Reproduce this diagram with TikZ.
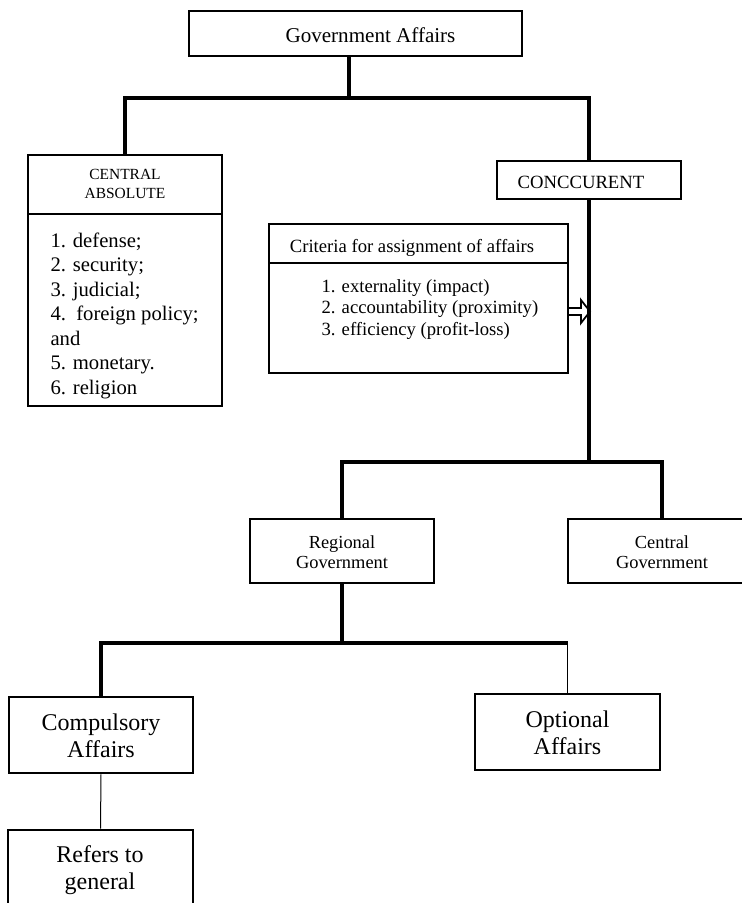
\documentclass[tikz,border=0pt]{standalone}
\usepackage{fontspec}
\setmainfont{Liberation Serif}
\usetikzlibrary{fit}

\tikzset{every picture/.style={line width=0.75pt}}
\tikzset{box/.style={draw, line width=1.9pt, inner sep=0pt},
  trunk/.style={line width=2.9pt},
  twig/.style={line width=0.75pt},
  boxtext/.style={inner sep=0pt, align=center},
  listtext/.style={inner sep=0pt, align=left, anchor=north west}}

\begin{document}
\begin{tikzpicture}[x=0.75pt,y=0.75pt,yscale=-1,xscale=1]
\useasboundingbox (0,0) rectangle (742,903);

%Shape: Rectangle
\node[box, fit={(189,11) (522,56)}] (gov) {};
%Shape: Rectangle
\node[box, fit={(28,155) (222,214)}] (absolute) {};
%Shape: Rectangle
\node[box, fit={(28,214) (222,406)}] (abslist) {};
%Shape: Rectangle
\node[box, fit={(497,161) (681,199)}] (conc) {};
%Shape: Rectangle
\node[box, fit={(269,224) (568,263)}] (crithead) {};
%Shape: Rectangle
\node[box, fit={(269,263) (568,373)}] (critbody) {};
%Shape: Rectangle
\node[box, fit={(250,519) (434,583)}] (regional) {};
%Shape: Rectangle
\node[box, fit={(568,519) (756,583)}] (central) {};
%Shape: Rectangle
\node[box, fit={(9,697) (193,773)}] (compulsory) {};
%Shape: Rectangle
\node[box, fit={(475,694) (660,770)}] (optional) {};
%Shape: Rectangle
\node[box, fit={(8,830) (193,915)}] (refers) {};

%Straight Lines
\coordinate (split1) at (349,98);
\draw[trunk] (gov.south -| split1) -- (split1);
\draw[trunk] (absolute.north) |- (split1) -| (conc.north);
%Straight Lines
\coordinate (split2) at (589,462);
\draw[trunk] (conc.south) -- (split2);
\draw[trunk] (regional.north) |- (split2) -| (central.north);
%Straight Lines
\coordinate (split3) at (342,643);
\draw[trunk] (regional.south) -- (split3);
\draw[trunk] (compulsory.north) |- (optional.north |- split3);
\draw[twig] (optional.north |- split3) -- (optional.north);
%Straight Lines
\draw[twig] (compulsory.south) -- (refers.north);
%Right Arrow
\coordinate (arrowtail) at (568,311.5);
\draw[line width=1.3pt] (arrowtail) ++(0,-3.5) -- ++(13,0) -- ++(0,-8) -- ++(9,11.5) -- ++(-9,11.5) -- ++(0,-8) -- ++(-13,0);

% Text Node
\node[boxtext, font=\fontsize{15.8}{19}\selectfont] (govtext) at (370.5,35) {Government Affairs};
% Text Node
\node[boxtext, font=\fontsize{11.6}{14.3}\selectfont] (abstext) at (125,184) {CENTRAL\\ABSOLUTE};
% Text Node
\node[listtext, font=\fontsize{15.5}{18.4}\selectfont] (abslisttext) at (50,232) {1. defense;\\2. security;\\3. judicial;\\4.\ \ foreign\ policy;\\and\\5. monetary.\\6. religion};
% Text Node
\node[boxtext, font=\fontsize{14}{16.5}\selectfont] (conctext) at (581,182.5) {CONCCURENT};
% Text Node
\node[boxtext, font=\fontsize{14}{16.5}\selectfont] (crittext) at (412,247.5) {Criteria for assignment of affairs};
% Text Node
\node[listtext, font=\fontsize{14}{16.1}\selectfont] (critlisttext) at (321,279) {1. externality (impact)\\2. accountability (proximity)\\3. efficiency (profit-loss)};
% Text Node
\node[boxtext, font=\fontsize{13.8}{15}\selectfont] (regionaltext) at (342,552) {Regional\\Government};
% Text Node
\node[boxtext, font=\fontsize{13.8}{15}\selectfont] (centraltext) at (662,552) {Central\\Government};
% Text Node
\node[boxtext, font=\fontsize{18}{20.3}\selectfont] (compulsorytext) at (101,736) {Compulsory\\Affairs};
% Text Node
\node[boxtext, font=\fontsize{18}{20.3}\selectfont] (optionaltext) at (567.5,732.5) {Optional\\Affairs};
% Text Node
\node[boxtext, font=\fontsize{18}{20.3}\selectfont] (referstext) at (100,870) {Refers to\\general};

\end{tikzpicture}
\end{document}
